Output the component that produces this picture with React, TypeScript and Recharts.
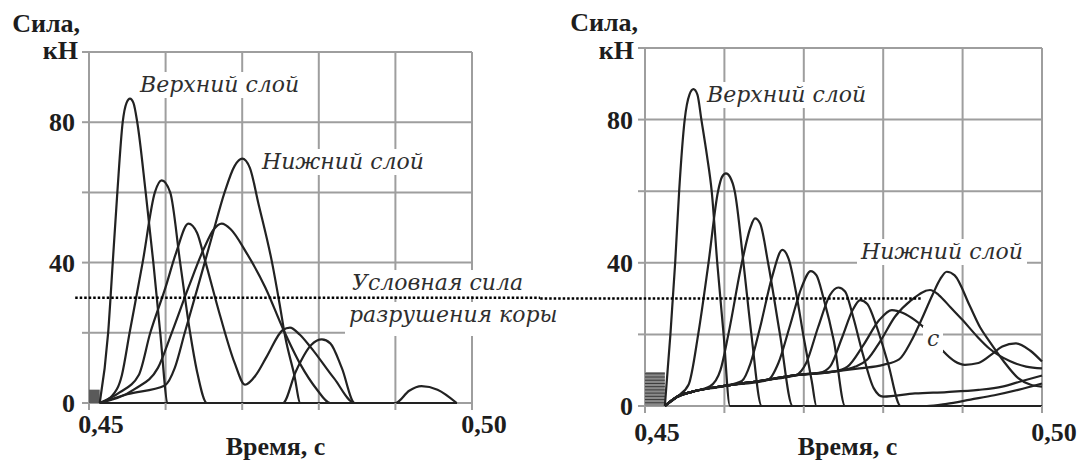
import React from 'react'
import { LineChart, Line, XAxis, YAxis, CartesianGrid, ReferenceLine, ReferenceArea } from 'recharts'

type Pt = [number, number]

// axes
const xTicks = [0.45, 0.46, 0.47, 0.48, 0.49, 0.5]
const xLabelTicks = [0.45, 0.5]
const yTicks = [0, 20, 40, 60, 80, 100]
const yLabelTicks = [0, 40, 80]
const threshold = 30

// left panel: time (s) vs force (kN)
const leftA: Pt[] = [[0.4514, 0], [0.4525, 20], [0.4531, 40], [0.4537, 60], [0.4544, 80], [0.4549, 85.5], [0.45535, 86.7], [0.4558, 85.5], [0.4563, 80], [0.4574, 60], [0.4584, 40], [0.4593, 20], [0.4603, 0], [0.498, 0]]
const leftB: Pt[] = [[0.4514, 0], [0.453, 2], [0.4543, 8], [0.4553, 20], [0.457, 40], [0.4586, 60], [0.45949, 63.4], [0.4606, 60], [0.4619, 40], [0.4632, 20], [0.4641, 9], [0.4654, 0], [0.498, 0]]
const leftC: Pt[] = [[0.4514, 0], [0.454, 3], [0.4565, 8], [0.458, 20], [0.46, 33], [0.4614, 43], [0.46297, 51.1], [0.4641, 48.5], [0.4651, 41], [0.4671, 25], [0.469, 11.5], [0.47037, 5.2], [0.4718, 8], [0.4732, 13.2], [0.4753, 20.8], [0.47624, 21.5], [0.4775, 19.5], [0.4789, 16], [0.482, 7], [0.4847, 0], [0.498, 0]]
const leftD: Pt[] = [[0.4514, 0], [0.455, 2.5], [0.4599, 5], [0.4612, 10], [0.4625, 20], [0.4642, 33], [0.466, 47], [0.4677, 60], [0.469, 67.5], [0.47, 69.6], [0.471, 67], [0.4721, 57], [0.4739, 40], [0.4749, 28], [0.4756, 19], [0.4768, 8], [0.4776, 0], [0.498, 0]]
const leftF: Pt[] = [[0.4514, 0], [0.456, 4], [0.459, 10], [0.4608, 20], [0.463, 33], [0.465, 44], [0.4663, 49.5], [0.46732, 51.1], [0.4685, 49.5], [0.4705, 43], [0.473, 33], [0.4754, 20.8], [0.4776, 11], [0.4797, 4], [0.4815, 0], [0.498, 0]]
const leftE: Pt[] = [[0.4514, 0], [0.4753, 0], [0.477, 9], [0.479, 16.5], [0.4804, 18.1], [0.4815, 17], [0.483, 10], [0.4847, 0], [0.498, 0]]
const leftG: Pt[] = [[0.4514, 0], [0.49, 0], [0.4918, 3.5], [0.4934, 4.8], [0.4955, 3.8], [0.498, 0]]
const leftCurves = [leftA, leftB, leftC, leftD, leftF, leftE, leftG]
const leftBlock = { x: [0.45, 0.4514], y: [0, 3.8] }

// right panel
const rightR1: Pt[] = [[0.4525, 0], [0.4532, 20], [0.4538, 40], [0.4543, 60], [0.455, 80], [0.4556, 87], [0.4561, 88.5], [0.4566, 87], [0.4571, 80], [0.4578, 70], [0.4584, 60], [0.4591, 40], [0.4599, 20], [0.4607, 0], [0.5, 0]]
const rightR2: Pt[] = [[0.4525, 0], [0.454, 2.5], [0.4555, 6], [0.4567, 20], [0.458, 40], [0.4592, 60], [0.4597, 64], [0.4602, 65], [0.4607, 64], [0.4613, 60], [0.4624, 40], [0.4634, 20], [0.4647, 0], [0.5, 0]]
const rightR3: Pt[] = [[0.4525, 0], [0.454, 2.5], [0.456, 4], [0.4582, 5.5], [0.4595, 10], [0.4605, 20], [0.4622, 40], [0.4633, 50], [0.46385, 52.4], [0.4645, 51], [0.4655, 40], [0.467, 20], [0.4686, 0], [0.5, 0]]
const rightR4: Pt[] = [[0.4525, 0], [0.454, 2.5], [0.456, 4], [0.46, 5.6], [0.4622, 7], [0.4633, 12], [0.4645, 22], [0.466, 36], [0.4673, 43.6], [0.4681, 41], [0.469, 32], [0.47, 19], [0.471, 7], [0.4716, 0], [0.5, 0]]
const rightR5: Pt[] = [[0.4525, 0], [0.454, 2.5], [0.456, 4], [0.46, 5.6], [0.4655, 7.3], [0.4668, 12], [0.4682, 22], [0.4697, 33], [0.47087, 37.7], [0.4716, 36.5], [0.4725, 30], [0.4738, 18], [0.4752, 0], [0.5, 0]]
const rightR6: Pt[] = [[0.4525, 0], [0.454, 2.5], [0.456, 4], [0.46, 5.6], [0.465, 7.2], [0.469, 8.6], [0.4703, 12], [0.4718, 22], [0.4733, 31], [0.47435, 33.1], [0.4752, 32], [0.4762, 25], [0.4775, 14], [0.4788, 5], [0.48, 2.6], [0.484, 3.5], [0.488, 3.9], [0.492, 4.5], [0.495, 5.4], [0.4975, 7], [0.5, 8.5]]
const rightR7: Pt[] = [[0.4525, 0], [0.454, 2.5], [0.456, 4], [0.46, 5.6], [0.465, 7.2], [0.469, 8.6], [0.472, 9.3], [0.4733, 11], [0.4748, 19], [0.4762, 27], [0.4771, 29.6], [0.478, 28.5], [0.4792, 22], [0.4806, 12], [0.4822, 0], [0.4855, 0], [0.488, 0.6], [0.491, 1.8], [0.494, 3], [0.497, 4.5], [0.5, 6.3]]
const rightR8: Pt[] = [[0.4525, 0], [0.454, 2.5], [0.456, 4], [0.46, 5.6], [0.465, 7.2], [0.469, 8.6], [0.4737, 9.6], [0.4755, 11], [0.4775, 17], [0.4795, 24], [0.4811, 26.8], [0.4825, 26], [0.484, 24], [0.4851, 22], [0.4864, 18.5], [0.4876, 15.2], [0.489, 12.5], [0.4903, 11.5], [0.492, 12], [0.4937, 14.5], [0.495, 16.6], [0.4967, 17.5], [0.4985, 15.5], [0.5, 12.4]]
const rightR9: Pt[] = [[0.4525, 0], [0.454, 2.5], [0.456, 4], [0.46, 5.6], [0.465, 7.2], [0.469, 8.6], [0.4737, 9.6], [0.4765, 11], [0.478, 13], [0.4796, 18], [0.4815, 25], [0.4835, 29.5], [0.4859, 32.4], [0.487, 31], [0.4885, 27.5], [0.49, 24], [0.4918, 19.5], [0.4934, 16], [0.496, 12.5], [0.498, 11], [0.5, 10.5]]
const rightR10: Pt[] = [[0.4525, 0], [0.454, 2.5], [0.456, 4], [0.46, 5.6], [0.465, 7.2], [0.469, 8.6], [0.4737, 9.6], [0.477, 10.5], [0.48, 11.5], [0.482, 13], [0.4835, 18], [0.4848, 24], [0.4862, 31], [0.4872, 35.5], [0.488, 37.5], [0.489, 36.5], [0.4909, 28], [0.4922, 22], [0.4934, 18], [0.4951, 12.7], [0.497, 7.8], [0.4985, 6], [0.5, 5.4]]
const rightCurves = [rightR1, rightR2, rightR3, rightR4, rightR5, rightR6, rightR7, rightR8, rightR9, rightR10]
const rightBlock = { x: [0.45, 0.4525], y: [0, 9.5] }
const rightHatch = [0.9, 1.8, 2.7, 3.6, 4.5, 5.4, 6.3, 7.2, 8.1, 9.0]

// extent of the dotted "threshold" line in each panel (it runs across both)
const leftThresholdSpan = [0.4482, 0.509]
const rightThresholdSpan = [0.4368, 0.4849]

const GRID = '#9e9e9e'
const INK = '#222'
const TEXT = '#1d1d1d'
const axisFont = { fontFamily: 'Liberation Serif', fontSize: 26, fontWeight: 700, fill: TEXT }

const toRows = (pts: Pt[]) => pts.map(([t, f]) => ({ t, f }))
const fmtX = (v: number) =>
  xLabelTicks.some((x) => Math.abs(x - v) < 1e-9) ? v.toFixed(2).replace('.', ',') : ''
const fmtY = (v: number) => (yLabelTicks.includes(v) ? String(v) : '')

interface PanelProps {
  width: number
  margin: { top: number; right: number; bottom: number; left: number }
  xAxisHeight: number
  xTickMargin: number
  yTickMargin: number
  labelDx: number
  curves: Pt[][]
  block: { x: number[]; y: number[] }
  blockFill: string
  hatch: number[]
  span: number[]
}

function Panel(p: PanelProps) {
  return (
    <LineChart width={p.width} height={461} margin={p.margin}>
      <CartesianGrid stroke={GRID} strokeWidth={2} />
      <XAxis
        type="number"
        dataKey="t"
        domain={[0.45, 0.5]}
        ticks={xTicks}
        interval={0}
        height={p.xAxisHeight}
        axisLine={false}
        tickSize={7}
        tickMargin={p.xTickMargin}
        tickLine={{ stroke: GRID, strokeWidth: 2 }}
        tick={{ ...axisFont, dx: 12 }}
        tickFormatter={fmtX}
        label={{ value: 'Время, с', position: 'insideBottom', offset: 6, dx: p.labelDx, ...axisFont }}
      />
      <YAxis
        type="number"
        domain={[0, 100]}
        ticks={yTicks}
        interval={0}
        width={60}
        axisLine={false}
        tickSize={7}
        tickMargin={p.yTickMargin}
        tickLine={{ stroke: GRID, strokeWidth: 2 }}
        tick={axisFont}
        tickFormatter={fmtY}
      />
      <ReferenceArea
        x1={p.block.x[0]}
        x2={p.block.x[1]}
        y1={p.block.y[0]}
        y2={p.block.y[1]}
        fill={p.blockFill}
        fillOpacity={1}
        stroke="none"
      />
      {p.hatch.map((lvl) => (
        <ReferenceLine
          key={lvl}
          segment={[
            { x: p.block.x[0], y: lvl },
            { x: p.block.x[1], y: lvl },
          ]}
          stroke="#3a3a3a"
          strokeWidth={1}
        />
      ))}
      {p.curves.map((c, i) => (
        <Line
          key={i}
          data={toRows(c)}
          dataKey="f"
          type="monotone"
          stroke={INK}
          strokeWidth={2.2}
          dot={false}
          activeDot={false}
          isAnimationActive={false}
        />
      ))}
      <ReferenceLine
        segment={[
          { x: p.span[0], y: threshold },
          { x: p.span[1], y: threshold },
        ]}
        ifOverflow="visible"
        stroke="#000"
        strokeWidth={2.5}
        strokeDasharray="2.5 2"
      />
    </LineChart>
  )
}

const noteBox: React.CSSProperties = {
  position: 'absolute',
  background: '#fff',
  whiteSpace: 'nowrap',
  padding: '0 4px',
  lineHeight: '26px',
  fontFamily: 'DejaVu Serif',
  fontStyle: 'italic',
  fontSize: 22,
  color: '#2e2e2e',
}

const head: React.CSSProperties = {
  position: 'absolute',
  fontFamily: 'Liberation Serif',
  fontWeight: 700,
  fontSize: 26,
  lineHeight: '26px',
  color: TEXT,
  textAlign: 'right',
  whiteSpace: 'nowrap',
}

function Note({ left, top, height, children }: { left: number; top: number; height?: number; children: string }) {
  return <div style={{ ...noteBox, left, top, height }}>{children}</div>
}

export default function App() {
  return (
    <div style={{ position: 'absolute', left: 0, top: 0, width: 1079, height: 461, background: '#fff', overflow: 'hidden' }}>
      <div style={{ position: 'absolute', left: 0, top: 0 }}>
        <Panel
          width={540}
          margin={{ top: 52, right: 68, bottom: 0, left: 29 }}
          xAxisHeight={58}
          xTickMargin={5}
          yTickMargin={7}
          labelDx={-5}
          curves={leftCurves}
          block={leftBlock}
          blockFill="#5a5a5a"
          hatch={[]}
          span={leftThresholdSpan}
        />
      </div>
      <div style={{ position: 'absolute', left: 540, top: 0 }}>
        <Panel
          width={539}
          margin={{ top: 48, right: 37, bottom: 0, left: 45 }}
          xAxisHeight={55}
          xTickMargin={10}
          yTickMargin={5}
          labelDx={4}
          curves={rightCurves}
          block={rightBlock}
          blockFill="#8a8a8a"
          hatch={rightHatch}
          span={rightThresholdSpan}
        />
      </div>

      <div style={{ ...head, left: 0, width: 80, top: 11 }}>Сила,</div>
      <div style={{ ...head, left: 0, width: 78, top: 38 }}>кН</div>
      <div style={{ ...head, left: 540, width: 98, top: 10 }}>Сила,</div>
      <div style={{ ...head, left: 540, width: 94, top: 38 }}>кН</div>

      <Note left={136} top={72}>Верхний слой</Note>
      <Note left={258} top={149}>Нижний слой</Note>
      <Note left={348} top={270} height={26}>Условная сила</Note>
      <Note left={345} top={302} height={34}>разрушения коры</Note>
      <Note left={703} top={82}>Верхний слой</Note>
      <Note left={857} top={239}>Нижний слой</Note>
      <Note left={923} top={326}>c</Note>
    </div>
  )
}
